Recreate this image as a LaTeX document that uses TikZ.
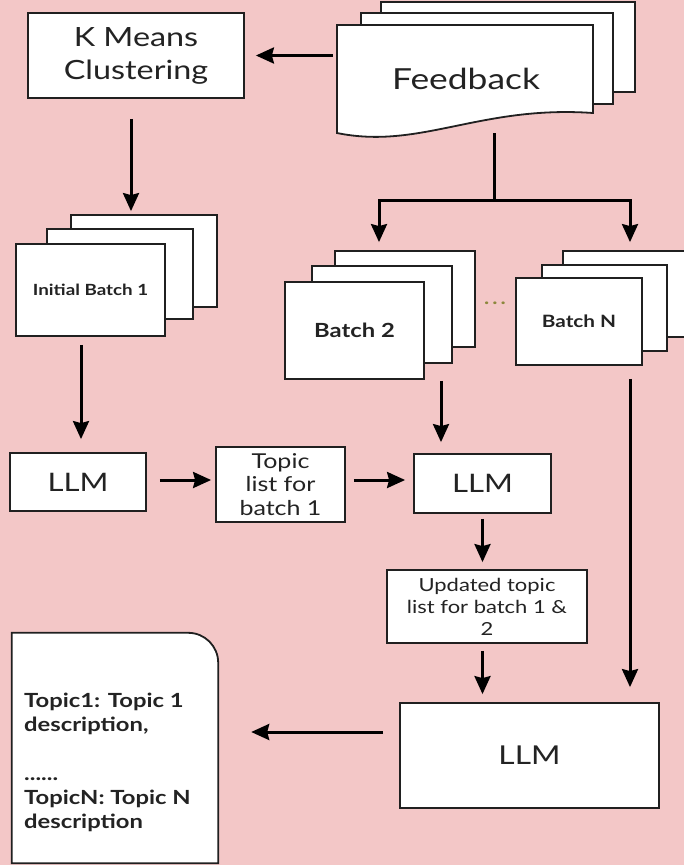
\documentclass[tikz,border=0pt]{standalone}
\usepackage{fontspec}
\setmainfont{Lato}[FakeStretch=1.22]
\usetikzlibrary{arrows.meta,calc}
\definecolor{bg}{RGB}{243,199,199}
\definecolor{ink}{RGB}{32,32,32}
\definecolor{txt}{RGB}{35,35,35}
\definecolor{dotcol}{RGB}{140,135,60}
\newcommand{\fsz}[2]{\fontsize{#1}{#2}\selectfont}

\begin{document}
\begin{tikzpicture}[x=1pt,y=-1pt,
  sheetline/.style={draw=ink, line width=1.8pt, fill=white, line join=miter},
  sheet/.style={sheetline, inner sep=0pt, align=center, text=txt},
  box/.style={sheet},
  arr/.style={draw=black, line width=3pt,
    -{Stealth[length=18pt,width=16pt,inset=2pt]}},
  conn/.style={draw=black, line width=3pt}]

% canvas
\useasboundingbox (0,0) rectangle (684,865);
\fill[bg] (0,0) rectangle (684,865);
\clip (0,0) rectangle (684,865);

% ---- feedback document stack ----
\node[sheet, minimum width=254pt, minimum height=90pt] (fb3) at (508,47) {};
\node[sheet, minimum width=252pt, minimum height=91pt] (fb2) at (487,58.5) {};
\filldraw[sheetline] (337,25) -- (593,25) -- (593,113)
  .. controls (480,105) and (420,150) .. (337,133) -- cycle;
\node[minimum width=256pt, minimum height=108pt, inner sep=0pt, text=txt,
  font=\fsz{29}{34}] (fb) at (466,79) {Feedback};

% ---- clustering ----
\node[box, minimum width=216pt, minimum height=85pt, font=\fsz{26.5}{33}]
  (km) at (136,55.5) {K Means\\Clustering};

% ---- initial batch stack ----
\node[sheet, minimum width=146pt, minimum height=92pt] (ib3) at (144,261) {};
\node[sheet, minimum width=146pt, minimum height=90pt] (ib2) at (120,274) {};
\node[sheet, minimum width=149pt, minimum height=92pt, font=\bfseries\fsz{15.4}{18}]
  (ib1) at (90.5,290) {Initial Batch 1};

% ---- batch 2 stack ----
\node[sheet, minimum width=140pt, minimum height=96pt] (b3) at (405,299) {};
\node[sheet, minimum width=140pt, minimum height=97pt] (b2) at (382,314.5) {};
\node[sheet, minimum width=139pt, minimum height=97pt, font=\bfseries\fsz{19.5}{22}]
  (b1) at (354.5,330.5) {Batch 2};

% ---- ellipsis between stacks ----
\node[text=dotcol, font=\bfseries\fsz{18}{20}] (dots) at (495,303)
  {.\hspace{3pt}.\hspace{3pt}.};

% ---- batch N stack ----
\node[sheet, minimum width=127pt, minimum height=86pt] (n3) at (626.5,294) {};
\node[sheet, minimum width=125pt, minimum height=86pt] (n2) at (604.5,308) {};
\node[sheet, minimum width=126pt, minimum height=87pt, font=\bfseries\fsz{17}{20}]
  (n1) at (579,321.5) {Batch N};

% ---- processing row ----
\node[box, minimum width=136pt, minimum height=58pt, font=\fsz{25.5}{30}]
  (llm1) at (78,482) {LLM};
\node[box, minimum width=129pt, minimum height=75pt, font=\fsz{20.5}{23.5}]
  (tl) at (280.5,484.5) {Topic\\list for\\batch 1};
\node[box, minimum width=137pt, minimum height=59pt, font=\fsz{25.5}{30}]
  (llm2) at (482.5,483.5) {LLM};
\node[box, minimum width=200pt, minimum height=73pt, font=\fsz{18}{22}]
  (up) at (487,606.5) {Updated topic\\list for batch 1 \&\\2};
\node[box, minimum width=259pt, minimum height=105pt, font=\fsz{26}{30}]
  (llm3) at (529.5,755.5) {LLM};

% ---- output list ----
\node[minimum width=206pt, minimum height=230pt, inner sep=0pt] (tp) at (115,748) {};
\filldraw[sheetline] (tp.south west) -- (tp.north west) -- ([xshift=-30pt]tp.north east)
  .. controls ([xshift=-13.4pt]tp.north east) and ([yshift=-13.4pt]tp.north east)
  .. ([yshift=-30pt]tp.north east) -- (tp.south east) -- cycle;
\node[anchor=north west, inner sep=0pt, align=left, text=txt,
  font=\bfseries\fsz{19.5}{24.2}] (tptext) at (24,693)
  {Topic1: Topic 1\\description,\\[24.2pt]......\\TopicN: Topic N\\description};

% ---- connectors ----
\coordinate (fork) at (494,200);
\draw[arr, shorten <=5pt, shorten >=11pt] (fb.west |- km.east) -- (km.east);
\draw[arr, shorten <=20pt, shorten >=3pt]
  ([xshift=-5pt]km.south) -- ([xshift=-5pt]km.south |- ib3.north);
\draw[conn] ([xshift=28pt]fb.south) -- (fork);
\draw[arr, shorten >=8pt] (fork) -| ([xshift=-26pt]b3.north);
\draw[arr, shorten >=8pt] (fork) -| ([xshift=3.5pt]n3.north);

\draw[arr, shorten <=8pt, shorten >=13pt]
  ([xshift=-9.5pt]ib1.south) -- ([xshift=-9.5pt]ib1.south |- llm1.north);
\draw[arr, shorten <=13pt, shorten >=4pt] ([yshift=2pt]llm1.east) -- ([yshift=2pt]llm1.east -| tl.west);
\draw[arr, shorten <=8pt, shorten >=8pt] ([yshift=2pt]llm1.east -| tl.east) -- ([yshift=2pt]llm1.east -| llm2.west);
\draw[arr, shorten <=1pt, shorten >=11pt]
  ([xshift=-41.5pt]llm2.north |- b1.south) -- ([xshift=-41.5pt]llm2.north);
\draw[arr, shorten <=5pt, shorten >=7pt] (llm2.south) -- (llm2.south |- up.north);
\draw[arr, shorten <=7pt, shorten >=8pt] (llm2.south |- up.south) -- (llm2.south |- llm3.north);
\draw[arr, shorten <=13pt, shorten >=15pt]
  ([xshift=3.5pt]n3.north |- n1.south) -- ([xshift=3.5pt]n3.north |- llm3.north);
\draw[arr, shorten <=16pt, shorten >=33pt]
  ([yshift=23.5pt]llm3.west) -- ([yshift=23.5pt]llm3.west -| tp.east);
\end{tikzpicture}
\end{document}
